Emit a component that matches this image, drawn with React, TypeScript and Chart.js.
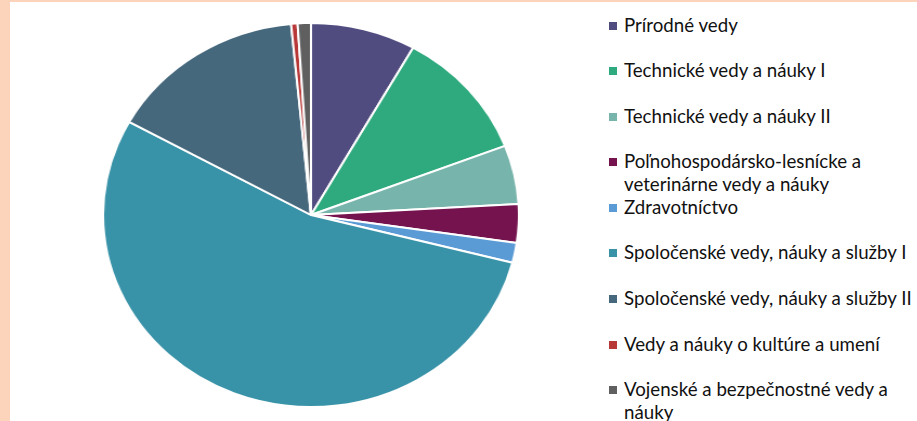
import React, { useEffect, useRef } from "react";
import { Chart, registerables } from "chart.js";

Chart.register(...registerables);

const categories: string[] = [
  "Prírodné vedy",
  "Technické vedy a náuky I",
  "Technické vedy a náuky II",
  "Poľnohospodársko-lesnícke a\nveterinárne vedy a náuky",
  "Zdravotníctvo",
  "Spoločenské vedy, náuky a služby I",
  "Spoločenské vedy, náuky a služby II",
  "Vedy a náuky o kultúre a umení",
  "Vojenské a bezpečnostné vedy a\nnáuky",
];

const shares: number[] = [8.17, 10.97, 4.94, 3.25, 1.67, 54.06, 15.42, 0.5, 1.03];

const colors: string[] = [
  "#514C80",
  "#2EAA7E",
  "#77B4AB",
  "#74134E",
  "#5B9BD5",
  "#3993A8",
  "#46687D",
  "#B83838",
  "#5F5F5F",
];

export default function App() {
  const canvasRef = useRef<HTMLCanvasElement | null>(null);

  useEffect(() => {
    if (!canvasRef.current) return;
    const chart = new Chart(canvasRef.current, {
      type: "pie",
      data: {
        labels: categories.map((c) => c.replace("\n", " ")),
        datasets: [
          {
            data: shares,
            backgroundColor: colors,
            borderColor: "#FFFFFF",
            borderWidth: 2,
          },
        ],
      },
      options: {
        animation: false,
        responsive: true,
        maintainAspectRatio: false,
        layout: { padding: 0 },
        plugins: {
          legend: { display: false },
          tooltip: { enabled: true },
        },
      },
    });
    return () => chart.destroy();
  }, []);

  return (
    <div
      style={{
        position: "fixed",
        left: 0,
        top: 0,
        width: 917,
        height: 421,
        background: "#FCD4BC",
        overflow: "hidden",
      }}
    >
      <div
        style={{
          position: "absolute",
          left: 10,
          top: 2,
          right: 0,
          bottom: 0,
          background: "#FFFFFF",
        }}
      />
      <div
        style={{
          position: "absolute",
          left: 118,
          top: 22,
          width: 386,
          height: 386,
          transform: "scaleX(1.083)",
          transformOrigin: "50% 50%",
        }}
      >
        <canvas ref={canvasRef} />
      </div>
      <div
        style={{
          position: "absolute",
          left: 609,
          top: 13.5,
          fontFamily: "Lato, 'Noto Sans', sans-serif",
          fontSize: 18.7,
          color: "#111111",
        }}
      >
        {categories.map((c, i) => (
          <div key={i} style={{ position: "relative", height: 45.6 }}>
            <div
              style={{
                position: "absolute",
                left: 0,
                top: 8,
                width: 8,
                height: 8,
                background: colors[i],
              }}
            />
            <div
              style={{
                position: "absolute",
                left: 15,
                top: 0,
                lineHeight: "23px",
                whiteSpace: "pre",
              }}
            >
              {c}
            </div>
          </div>
        ))}
      </div>
    </div>
  );
}
